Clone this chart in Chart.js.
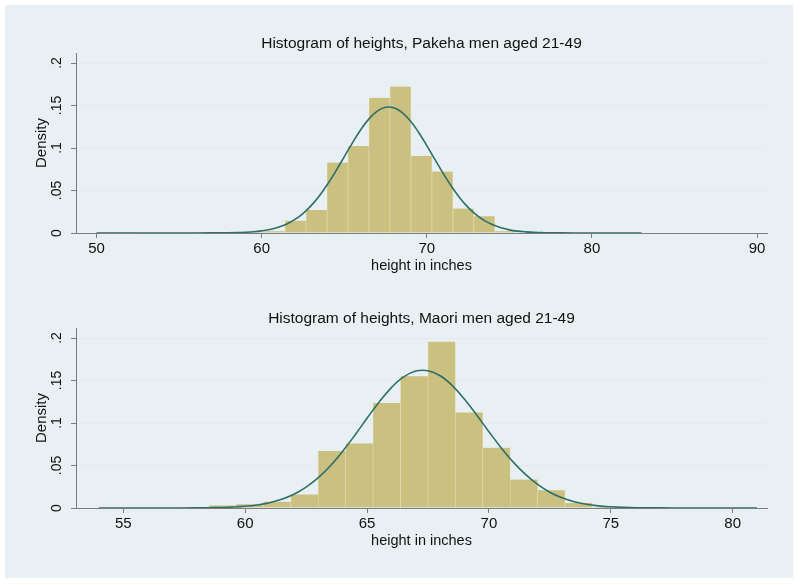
<!DOCTYPE html>
<html><head><meta charset="utf-8">
<script src="https://cdn.jsdelivr.net/npm/chart.js@4/dist/chart.umd.min.js"></script>
<style>
html,body{margin:0;padding:0;background:#fff;width:800px;height:585px;overflow:hidden;}
#frame{position:absolute;left:5px;top:5px;width:788px;height:573px;background:#e9f0f3;}
canvas{position:absolute;left:0;}
#c1{top:0}
#c2{top:275px}
</style></head><body>
<div id="frame"></div>
<canvas id="c1" width="800" height="280"></canvas>
<canvas id="c2" width="800" height="280"></canvas>
<script>
// ---- Pakeha ----
const pakehaTitle = 'Histogram of heights, Pakeha men aged 21-49';
const pakehaBinStarts = [50.00,51.27,52.54,53.81,55.08,56.35,57.62,58.88,60.15,61.42,62.69,63.96,65.23,66.50,67.77,69.04,70.31,71.58,72.85,74.12,75.38,76.65,77.92,79.19,80.46,81.73];
const pakehaBinWidth = 1.2692;
const pakehaDensity = [0.001,0.001,0,0,0,0,0,0.0015,0.002,0.0145,0.027,0.083,0.1025,0.159,0.1724,0.0907,0.0723,0.0287,0.0196,0.002,0,0,0,0,0,0];
const pakehaCurveX = [50,55,57,58,58.5,59,59.5,60,60.5,61,61.5,62,62.5,63,63.5,64,64.5,65,65.5,66,66.5,67,67.5,68,68.5,69,69.5,70,70.5,71,71.5,72,72.5,73,73.5,74,74.5,75,75.5,76,76.5,77,78,80,83];
const pakehaCurveY = [0,0,0.0001,0.0002,0.0004,0.0008,0.0014,0.0025,0.0041,0.0067,0.0104,0.0157,0.0229,0.0322,0.0438,0.0576,0.0731,0.0896,0.1061,0.1215,0.1343,0.1434,0.1479,0.1474,0.1419,0.1320,0.1186,0.1029,0.0863,0.0699,0.0547,0.0413,0.0302,0.0213,0.0145,0.0096,0.0061,0.0037,0.0022,0.0013,0.0007,0.0004,0.0001,0,0];
const pakehaXTicks = [50,60,70,80,90];
const pakehaXTickLabels = ['50','60','70','80','90'];
const pakehaXRange = [48.76, 90.6];

// ---- Maori ----
const maoriTitle = 'Histogram of heights, Maori men aged 21-49';
const maoriBinStarts = [54.000,55.125,56.250,57.375,58.500,59.625,60.750,61.875,63.000,64.125,65.250,66.375,67.500,68.625,69.750,70.875,72.000,73.125,74.250,75.375,76.500,77.625,78.750,79.875];
const maoriBinWidth = 1.125;
const maoriDensity = [0,0,0,0.001,0.003,0.0043,0.0075,0.016,0.067,0.076,0.1235,0.155,0.1957,0.1125,0.071,0.0334,0.0208,0.0058,0.0015,0.0008,0,0,0,0];
const maoriCurveX = [54,56,57,58,58.5,59,59.5,60,60.5,61,61.5,62,62.5,63,63.5,64,64.5,65,65.5,66,66.5,67,67.5,68,68.5,69,69.5,70,70.5,71,71.5,72,72.5,73,73.5,74,74.5,75,75.5,76,77,78,81];
const maoriCurveY = [0,0,0,0.0001,0.0003,0.0006,0.0011,0.0020,0.0036,0.0062,0.0103,0.0162,0.0246,0.0357,0.0498,0.0667,0.0856,0.1056,0.1248,0.1417,0.1543,0.1611,0.1616,0.1556,0.1440,0.1280,0.1094,0.0898,0.0710,0.0540,0.0395,0.0278,0.0186,0.0120,0.0074,0.0044,0.0025,0.0014,0.0007,0.0003,0.0001,0,0];
const maoriXTicks = [55,60,65,70,75,80];
const maoriXTickLabels = ['55','60','65','70','75','80'];
const maoriXRange = [53.06, 81.41];

// ---- shared ----
const yTickValues = [0,0.05,0.1,0.15,0.2];
const yTickLabels = ['0','.05','.1','.15','.2'];
const yMax = 0.2118;
const xAxisTitle = 'height in inches';
const yAxisTitle = 'Density';

const FONT = '"Liberation Sans", Arial, Helvetica, sans-serif';
const TEXT = '#111111';
const AXIS = '#7c7c7c';

const titlePlugin = {
  id: 'stataTitle',
  afterDraw(chart, args, opts) {
    const {ctx, chartArea} = chart;
    ctx.save();
    ctx.font = '15.5px ' + FONT;
    ctx.fillStyle = TEXT;
    ctx.textAlign = 'center';
    ctx.textBaseline = 'alphabetic';
    ctx.fillText(opts.text, (chartArea.left + chartArea.right) / 2, chartArea.top - 5.5);
    ctx.restore();
  }
};

function makeChart(id, title, binStarts, binWidth, density, curveX, curveY, xTicks, xTickLabels, xRange) {
  const bars = binStarts.map((s, i) => ({x: s + binWidth / 2, y: density[i]}));
  const curve = curveX.map((x, i) => ({x: x, y: curveY[i]}));
  return new Chart(document.getElementById(id), {
    data: {
      datasets: [
        {type: 'line', data: curve, borderColor: '#2e6e69', borderWidth: 1.6, pointRadius: 0,
         fill: false, tension: 0.4, order: 0},
        {type: 'bar', data: bars, backgroundColor: '#cac07f', borderColor: '#e4ddb2',
         borderWidth: {left: 0.6, right: 0.6, top: 0, bottom: 0}, borderSkipped: 'bottom',
         barPercentage: 1, categoryPercentage: 1, order: 1}
      ]
    },
    options: {
      responsive: false, animation: false, devicePixelRatio: 1,
      layout: {padding: {left: 0, right: 33, top: 53, bottom: 0}},
      plugins: {legend: {display: false}, tooltip: {enabled: false}, stataTitle: {text: title}},
      scales: {
        x: {
          type: 'linear', min: xRange[0], max: xRange[1], offset: false,
          afterBuildTicks: s => { s.ticks = xTicks.map(v => ({value: v})); },
          afterFit: s => { s.height = 47; },
          grid: {drawOnChartArea: false, drawTicks: true, tickLength: 5, tickColor: AXIS, offset: false},
          border: {display: true, color: AXIS, width: 1},
          ticks: {font: {family: FONT, size: 15}, color: TEXT, padding: 2, maxRotation: 0, autoSkip: false,
                  callback: (v, i) => xTickLabels[i]},
          title: {display: true, text: xAxisTitle, font: {family: FONT, size: 14.5}, color: TEXT,
                  padding: {top: 0, bottom: 5.8}}
        },
        y: {
          type: 'linear', min: 0, max: yMax,
          afterBuildTicks: s => { s.ticks = yTickValues.map(v => ({value: v})); },
          afterFit: s => { s.width = 76; },
          grid: {color: '#e3ebee', lineWidth: 1, drawTicks: true, tickLength: 5, tickColor: AXIS},
          border: {display: true, color: AXIS, width: 1},
          ticks: {font: {family: FONT, size: 14}, color: TEXT, padding: 4, minRotation: 90, maxRotation: 90,
                  crossAlign: 'center', autoSkip: false, callback: (v, i) => yTickLabels[i]},
          title: {display: true, text: yAxisTitle, font: {family: FONT, size: 15}, color: TEXT,
                  padding: {top: 33, bottom: 0}}
        }
      }
    },
    plugins: [titlePlugin]
  });
}

makeChart('c1', pakehaTitle, pakehaBinStarts, pakehaBinWidth, pakehaDensity, pakehaCurveX, pakehaCurveY, pakehaXTicks, pakehaXTickLabels, pakehaXRange);
makeChart('c2', maoriTitle, maoriBinStarts, maoriBinWidth, maoriDensity, maoriCurveX, maoriCurveY, maoriXTicks, maoriXTickLabels, maoriXRange);
</script>
</body></html>
